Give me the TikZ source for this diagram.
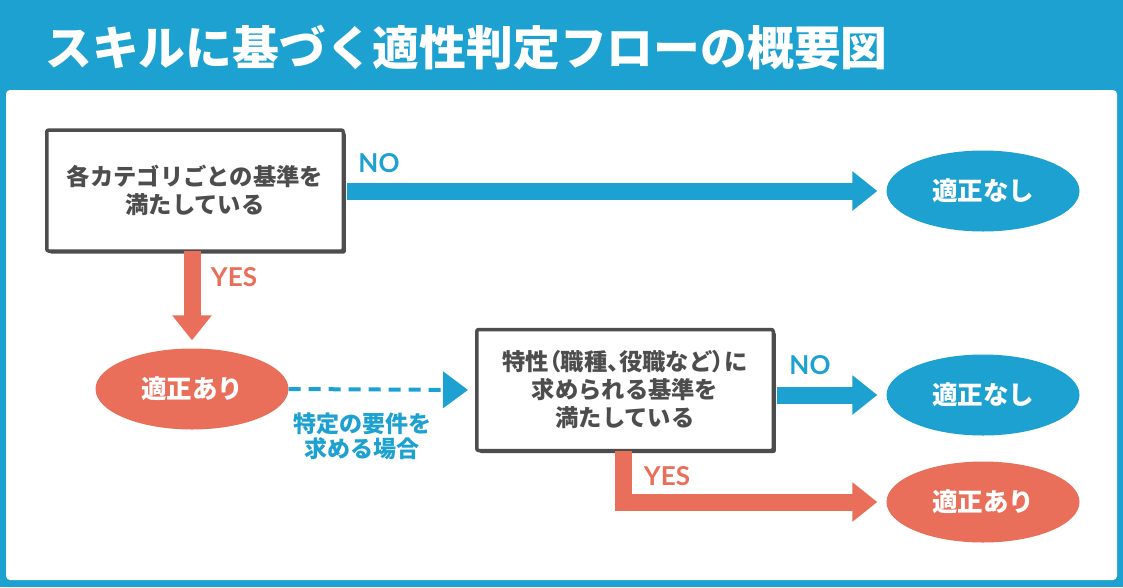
\documentclass[tikz,border=0pt]{standalone}
\usepackage{fontspec}
\setmainfont{Noto Sans CJK JP}
\newfontfamily\jpp[RawFeature=+palt]{Noto Sans CJK JP}
\newfontfamily\lato{Lato}
\usetikzlibrary{arrows.meta,shapes.geometric,shadows}
\definecolor{cblue}{RGB}{29,161,209}
\definecolor{cred}{RGB}{234,111,90}
\definecolor{cgray}{RGB}{77,77,77}
\begin{document}
\begin{tikzpicture}[x=1pt,y=-1pt,
  stepbox/.style={draw=cgray, line width=3.5pt, fill=white, rounded corners=2pt,
    minimum width=296.5pt, minimum height=121pt, inner sep=0pt, text=cgray,
    font=\fontsize{23.3}{28}\selectfont\bfseries, align=center,
    drop shadow={shadow xshift=2.5pt, shadow yshift=-2.5pt, opacity=1, fill=cgray}},
  result/.style={ellipse, minimum width=193pt, minimum height=81pt, inner sep=0pt,
    text=white, font=\fontsize{25.5}{25.5}\selectfont\bfseries},
  yn/.style={font=\lato\bfseries\fontsize{26}{26}\selectfont},
  bigarrow/.style={line width=17pt, -{Triangle[length=25pt,width=38pt]}, line join=miter},
]
\useasboundingbox (0,0) rectangle (1123,587);
\fill[cblue] (0,0) rectangle (1123,587);
\fill[white, rounded corners=4pt] (6,90) rectangle (1117,580);
\node[anchor=west, text=white, font=\fontsize{46.8}{46.8}\selectfont\bfseries, inner sep=0pt]
  (title) at (45,48) {スキルに基づく適性判定フローの概要図};

\node[stepbox] (b1) at (195,190.5) {各カテゴリごとの基準を\\満たしている};
\node[stepbox] (b2) at (625,390) {特性{\jpp（}職種{\jpp、}役職など{\jpp）}に\\求められる基準を\\満たしている};

\node[result, fill=cblue] (n1) at (983,191) {適正なし};
\node[result, fill=cred] (y1) at (192,389) {適正あり};
\node[result, fill=cblue] (n2) at (983,395) {適正なし};
\node[result, fill=cred] (y2) at (983,502) {適正あり};

\draw[bigarrow, cblue, shorten >=9pt] ([xshift=1.75pt]b1.east |- n1) -- (n1.west);
\draw[bigarrow, cred, shorten >=8pt] ([yshift=1.75pt]b1.south -| y1.north) -- (y1.north);
\draw[cblue, line width=4pt, dash pattern=on 12pt off 8pt,
  -{Triangle[length=25pt,width=36pt]}, shorten >=7pt] (y1.east) -- (b2.west);
\draw[bigarrow, cblue, shorten >=9pt] ([xshift=1.75pt]b2.east |- n2) -- (n2.west);
\draw[bigarrow, cred, shorten >=9pt] ([xshift=-2pt,yshift=1.75pt]b2.south) |- (y2.west);

\node[yn, text=cblue] (no1) at (379,163) {NO};
\node[yn, text=cred] (yes1) at (234,277) {YES};
\node[yn, text=cblue] (no2) at (810,365) {NO};
\node[yn, text=cred] (yes2) at (667,476) {YES};
\node[text=cblue, align=center, font=\fontsize{23}{25}\selectfont\bfseries]
  (cond) at (362,436) {特定の要件を\\求める場合};
\end{tikzpicture}
\end{document}
